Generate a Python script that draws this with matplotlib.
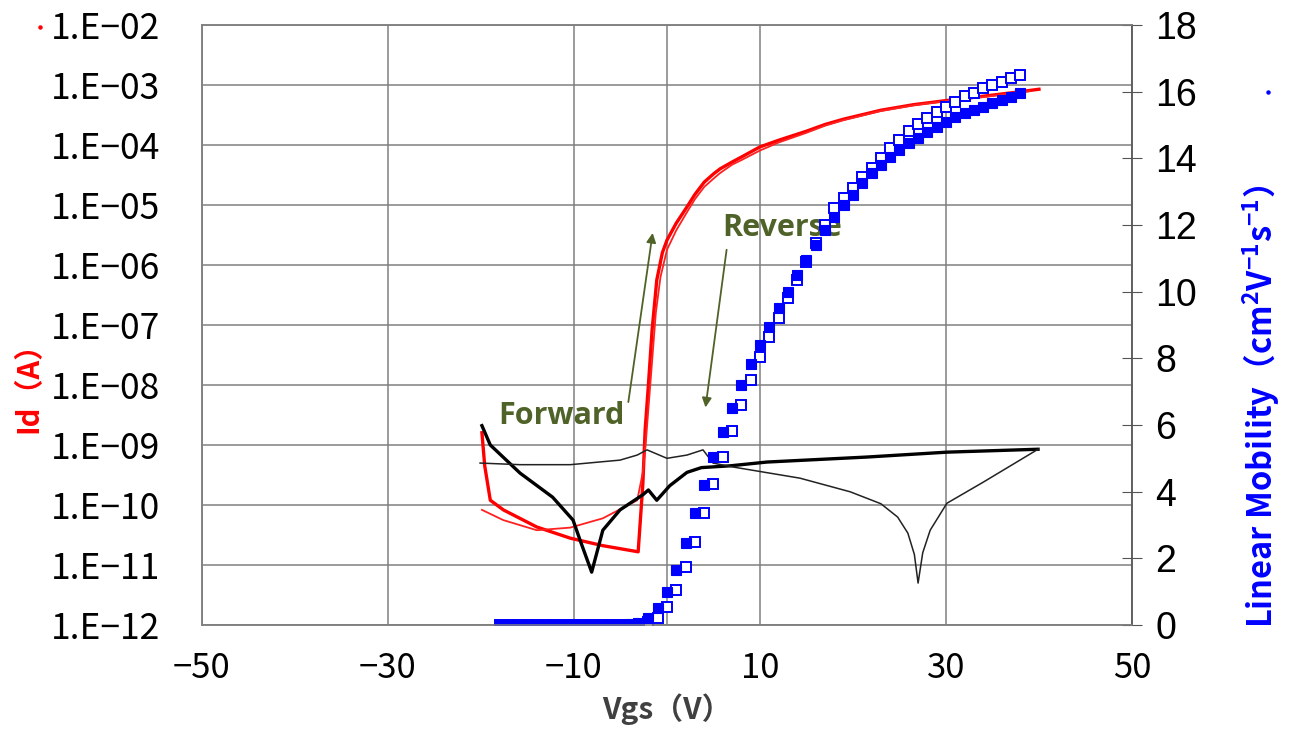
import math
import matplotlib
matplotlib.use("Agg")
import matplotlib.pyplot as plt
from matplotlib.ticker import FixedLocator, FuncFormatter, NullLocator
from matplotlib.lines import Line2D

plt.rcParams['font.family'] = ['Noto Sans CJK JP', 'DejaVu Sans']
plt.rcParams['mathtext.fontset'] = 'custom'
plt.rcParams['mathtext.rm'] = 'Noto Sans CJK JP:bold'
plt.rcParams['mathtext.bf'] = 'Noto Sans CJK JP:bold'
plt.rcParams['mathtext.default'] = 'bf'

# Id forward sweep (thick red)
vg_red_thick = [-19.9, -19.6, -19.0, -17.6, -14.0, -10.4, -6.9, -3.1, -2.6, -2.35,
                -2.0, -1.6, -1.1, -0.5, 0.0, 1.0, 2.15, 3.0, 4.0, 5.0, 5.7, 7.0, 8.0,
                10.0, 12.0, 15.0, 17.0, 19.0, 21.0, 23.0, 26.5, 30.0, 34.0, 37.0, 40.0]
id_red_thick = [1.6e-9, 4.5e-10, 1.2e-10, 8.3e-11, 4.3e-11, 2.8e-11, 2.1e-11, 1.66e-11, 2.2e-10, 1.8e-9,
                1.0e-8, 8.3e-8, 5.6e-7, 1.6e-6, 2.6e-6, 5.0e-6, 9.3e-6, 1.5e-5, 2.4e-5, 3.3e-5, 4.0e-5, 5.2e-5, 6.3e-5,
                9.3e-5, 1.2e-4, 1.7e-4, 2.2e-4, 2.7e-4, 3.2e-4, 3.8e-4, 4.7e-4, 5.5e-4, 6.5e-4, 7.4e-4, 8.5e-4]

# Id other sweep (thin red)
vg_red_thin = [-19.9, -17.6, -14.0, -10.4, -6.9, -3.2, -2.6, -2.3, -2.0, -1.6,
               -1.2, -0.7, 0.0, 1.0, 2.15, 3.0, 4.0, 5.0, 5.7, 7.0, 8.0, 10.0, 12.0,
               15.0, 17.0, 19.0, 21.0, 23.0, 26.5, 30.0, 34.0, 37.0, 39.0]
id_red_thin = [8.3e-11, 5.6e-11, 3.8e-11, 4.2e-11, 6.0e-11, 1.2e-10, 3.5e-10, 1.0e-9, 4.0e-9, 2.5e-8,
               1.6e-7, 6.3e-7, 1.8e-6, 3.8e-6, 7.6e-6, 1.25e-5, 2.0e-5, 2.75e-5, 3.4e-5, 4.7e-5, 5.6e-5, 8.1e-5, 1.1e-4,
               1.6e-4, 2.1e-4, 2.6e-4, 3.1e-4, 3.7e-4, 4.6e-4, 5.4e-4, 6.3e-4, 7.2e-4, 7.9e-4]

# gate leakage, thick black
vg_blk_thick = [-19.9, -19.0, -15.8, -12.3, -10.1, -9.35, -8.1, -6.9, -5.05, -2.6,
                -2.0, -1.1, 0.3, 2.15, 3.7, 6.8, 10.75, 21.5, 30.1, 39.9]
ig_blk_thick = [2.1e-9, 1.0e-9, 3.4e-10, 1.35e-10, 5.6e-11, 2.6e-11, 7.6e-12, 3.8e-11, 8.3e-11, 1.48e-10,
                1.78e-10, 1.2e-10, 2.1e-10, 3.5e-10, 4.2e-10, 4.5e-10, 5.2e-10, 6.3e-10, 7.6e-10, 8.5e-10]

# gate leakage, thin black
vg_blk_thin = [-20.1, -15.8, -10.4, -5.05, -3.2, -2.15, 0.0, 2.15, 3.87, 4.95,
               7.1, 14.3, 19.7, 23.0, 24.8, 25.9, 26.6, 27.0, 27.5, 28.3,
               30.1, 34.0, 39.9]
ig_blk_thin = [5.0e-10, 4.7e-10, 4.7e-10, 5.6e-10, 6.8e-10, 8.3e-10, 6.0e-10, 6.8e-10, 8.3e-10, 5.0e-10,
               4.3e-10, 2.8e-10, 1.66e-10, 1.05e-10, 6.3e-11, 3.4e-11, 1.5e-11, 5.0e-12, 1.6e-11, 3.8e-11,
               1.07e-10, 2.4e-10, 8.5e-10]

# linear mobility, Vgs -18 .. 38 V
vg_mob = list(range(-18, 39))
mob_fwd = [0.0, 0.0, 0.0, 0.0, 0.0, 0.0, 0.0, 0.0, 0.0, 0.0,
           0.0, 0.0, 0.0, 0.0, 0.02, 0.06, 0.2, 0.5, 1.0, 1.65,
           2.45, 3.35, 4.2, 5.05, 5.8, 6.5, 7.2, 7.83, 8.4, 8.94,
           9.5, 10.0, 10.5, 10.95, 11.4, 11.85, 12.24, 12.6, 12.9, 13.26,
           13.56, 13.8, 14.04, 14.25, 14.46, 14.61, 14.79, 14.94, 15.09, 15.24,
           15.36, 15.45, 15.54, 15.66, 15.75, 15.84, 15.96]
mob_rev = [0.0, 0.0, 0.0, 0.0, 0.0, 0.0, 0.0, 0.0, 0.0, 0.0,
           0.0, 0.0, 0.0, 0.0, 0.0, 0.02, 0.08, 0.21, 0.54, 1.05,
           1.74, 2.49, 3.36, 4.23, 5.04, 5.82, 6.6, 7.35, 8.05, 8.65,
           9.2, 9.8, 10.35, 10.9, 11.45, 12.0, 12.5, 12.8, 13.11, 13.44,
           13.71, 14.01, 14.31, 14.55, 14.82, 15.03, 15.21, 15.39, 15.54, 15.69,
           15.87, 15.96, 16.11, 16.2, 16.29, 16.41, 16.5]

x_ticks = [-50, -30, -10, 10, 30, 50]
id_ticks = [1e-12, 1e-11, 1e-10, 1e-9, 1e-8, 1e-7, 1e-6, 1e-5, 1e-4, 1e-3, 1e-2]
mob_ticks = [0, 2, 4, 6, 8, 10, 12, 14, 16, 18]

GRID = '#808080'
OLIVE = '#4f6228'


def exp_label(v, pos):
    return '1.E\u2212%02d' % round(-math.log10(v))


def x_label(v, pos):
    return ('\u2212%d' % -v) if v < 0 else '%d' % v


fig = plt.figure(figsize=(12.9, 7.4), dpi=100)
ax = fig.add_axes([0.1566, 0.1554, 0.7209, 0.8108])
ax.set_yscale('log')
ax.set_xlim(-50, 50)
ax.set_ylim(1e-12, 1e-2)

ax.xaxis.set_major_locator(FixedLocator(x_ticks))
ax.yaxis.set_major_locator(FixedLocator(id_ticks))
ax.yaxis.set_minor_locator(NullLocator())
ax.yaxis.set_major_formatter(FuncFormatter(exp_label))
ax.xaxis.set_major_formatter(FuncFormatter(x_label))
ax.grid(True, color=GRID, lw=1.1)
ax.axvline(0, color=GRID, lw=1.1, zorder=0.5)
ax.set_axisbelow(True)
ax.tick_params(axis='y', length=0, labelsize=25.5, pad=30)
ax.tick_params(axis='x', length=0, labelsize=25, pad=19)
for s in ax.spines.values():
    s.set_color(GRID)
    s.set_linewidth(1.1)

ax.plot(vg_red_thick, id_red_thick, color='#ff0000', lw=2.4, zorder=3)
ax.plot(vg_red_thin, id_red_thin, color='#ff2020', lw=1.3, zorder=3)
ax.plot(vg_blk_thick, ig_blk_thick, color='black', lw=2.4, zorder=3)
ax.plot(vg_blk_thin, ig_blk_thin, color='#222222', lw=1.1, zorder=3)

ax.set_ylabel('Id\uff08A\uff09', color='red', fontsize=21, fontweight='bold')
ax.yaxis.set_label_coords(-0.171, 0.407)
ax.set_xlabel('Vgs\uff08V\uff09', color='#404040', fontsize=21.5, fontweight='bold', labelpad=5)

# annotations
ax.annotate('', xy=(-1.5, 10**-5.42), xytext=(-4.2, 10**-8.33),
            arrowprops=dict(arrowstyle='-|>', color=OLIVE, lw=1.3, mutation_scale=14))
ax.annotate('', xy=(4.1, 10**-8.42), xytext=(6.45, 10**-5.7),
            arrowprops=dict(arrowstyle='-|>', color=OLIVE, lw=1.3, mutation_scale=14))
ax.text(-11.3, 10**-8.52, 'Forward', color=OLIVE, fontsize=22, fontweight='bold',
        family=['Open Sans', 'DejaVu Sans'], ha='center', va='center', zorder=5)
ax.text(12.4, 10**-5.38, 'Reverse', color=OLIVE, fontsize=22, fontweight='bold',
        family=['Open Sans', 'DejaVu Sans'], ha='center', va='center', zorder=5)

ax2 = ax.twinx()
ax2.set_ylim(0, 18)
ax2.yaxis.set_major_locator(FixedLocator(mob_ticks))
ax2.tick_params(axis='y', direction='inout', length=14, color='#555555', labelsize=27, pad=10)
for lbl in ax2.get_yticklabels():
    lbl.set_family(['Liberation Sans', 'DejaVu Sans'])
for s in ax2.spines.values():
    s.set_color(GRID)
    s.set_linewidth(1.1)
ax2.spines['right'].set_color('#555555')

ax2.plot(vg_mob, mob_rev, ls='none', marker='s', ms=7, mfc='white', mec='#0000ff', mew=1.4)
ax2.plot(vg_mob, mob_fwd, ls='none', marker='s', ms=7.5, mfc='#0000ff', mec='#0000ff', mew=0.8)

ax2.set_ylabel('Linear Mobility\uff08cm$^{2}$V$^{-1}$s$^{-1}$\uff09', color='#0000ff', fontsize=23.5,
               fontweight='bold')
ax2.yaxis.set_label_coords(1.116, 0.365)

# tiny legend remnants
fig.add_artist(Line2D([40 / 1290], [1 - 27 / 740], marker='o', ms=2.2, color='red', transform=fig.transFigure))
fig.add_artist(Line2D([1268 / 1290], [1 - 92 / 740], marker='o', ms=2.2, color='#0000ff', transform=fig.transFigure))

fig.savefig('out.png', dpi=100)
